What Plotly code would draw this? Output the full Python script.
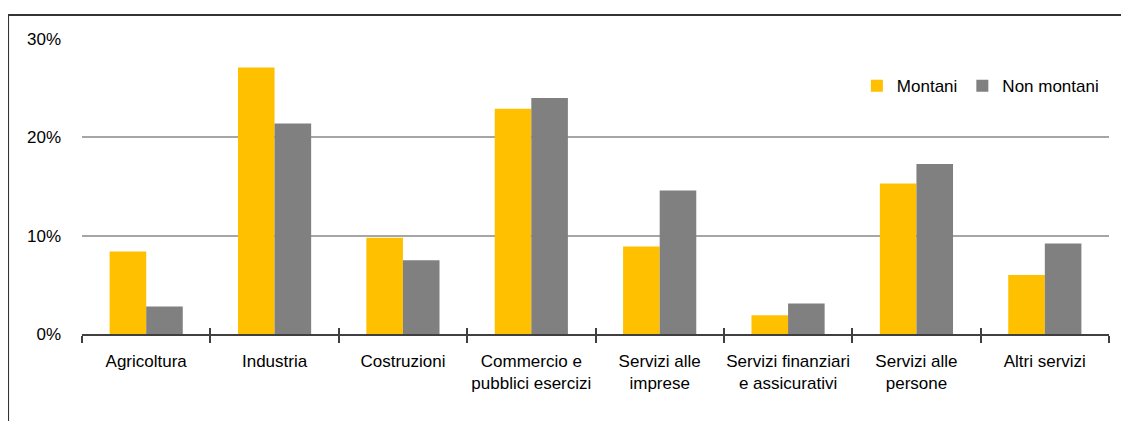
import plotly.graph_objects as go

categories = ["Agricoltura", "Industria", "Costruzioni", "Commercio e<br>pubblici esercizi",
              "Servizi alle<br>imprese", "Servizi finanziari<br>e assicurativi",
              "Servizi alle<br>persone", "Altri servizi"]
montani = [8.4, 27.1, 9.8, 22.9, 8.9, 1.9, 15.3, 6.0]
non_montani = [2.8, 21.4, 7.5, 24.0, 14.6, 3.1, 17.3, 9.2]
y_ticks = [0, 10, 20, 30]
y_tick_labels = ["0%", "10%", "20%", "30%"]

FONT = "Liberation Sans, Arial, sans-serif"
FS = 17

fig = go.Figure()
fig.add_trace(go.Bar(x=categories, y=montani, name="Montani", marker_color="#FFC000",
                     marker_line_width=0))
fig.add_trace(go.Bar(x=categories, y=non_montani, name="Non montani", marker_color="#808080",
                     marker_line_width=0))
# overlay axis for upward half of the category ticks
fig.add_trace(go.Scatter(x=categories, y=[None]*len(categories), xaxis="x2", showlegend=False,
                         hoverinfo="skip"))

fig.update_layout(
    width=1121, height=413,
    margin=dict(l=74, r=20, t=31, b=87),
    paper_bgcolor="white", plot_bgcolor="white",
    font=dict(family=FONT, size=FS, color="#000000"),
    barmode="group", bargap=0.43, bargroupgap=0,
    legend=dict(orientation="h", x=0.995, xanchor="right", y=0.84, yanchor="middle",
                font=dict(size=FS), itemwidth=30, traceorder="normal",
                bgcolor="rgba(0,0,0,0)"),
    xaxis=dict(type="category", range=[-0.5, 7.5], tickson="boundaries", ticks="outside",
               ticklen=7, tickcolor="#404040", tickwidth=1.5, tickangle=0, automargin=False,
               showline=True, linecolor="#404040", linewidth=1.5,
               showgrid=False, tickfont=dict(size=FS), ticklabelstandoff=11),
    xaxis2=dict(type="category", range=[-0.5, 7.5], overlaying="x", tickson="boundaries",
                ticks="inside", ticklen=6, tickcolor="#404040", tickwidth=1.5,
                showticklabels=False, showgrid=False, showline=False, side="bottom",
                anchor="y"),
    yaxis=dict(range=[0, 30], tickvals=y_ticks, ticktext=y_tick_labels, showgrid=True,
               gridcolor="#A6A6A6", gridwidth=1.5, zeroline=False, showline=False,
               ticks="", ticklabelstandoff=20, tickfont=dict(size=FS), automargin=False),
    shapes=[
        dict(type="line", xref="paper", yref="paper", x0=-0.072, x1=1.05, y0=1.081, y1=1.081,
             line=dict(color="#333333", width=2)),
        dict(type="line", xref="paper", yref="paper", x0=-0.072, x1=-0.072, y0=1.081, y1=-0.4,
             line=dict(color="#333333", width=2)),
    ],
)

fig.write_html("out.html")
